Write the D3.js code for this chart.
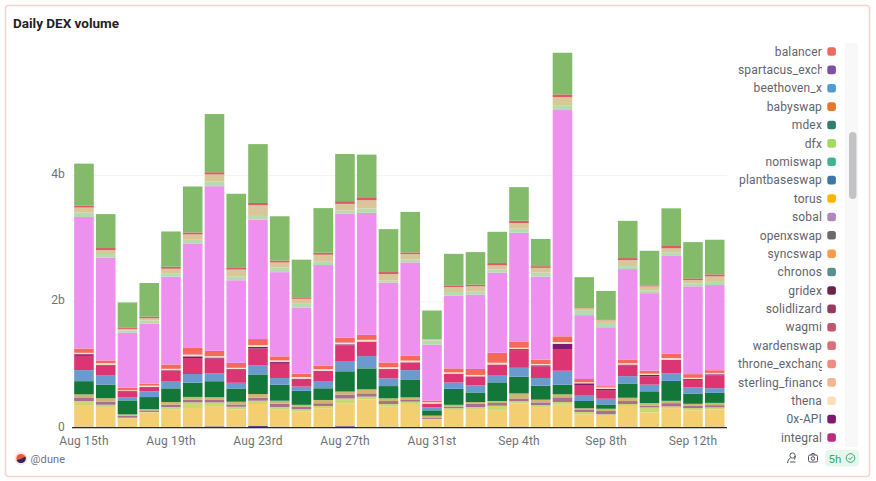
<!DOCTYPE html>
<html>
<head>
<meta charset="utf-8">
<script src="https://cdn.jsdelivr.net/npm/d3@7"></script>
<style>
  html, body { margin: 0; padding: 0; background: #fff; }
  text { font-family: Roboto, sans-serif; letter-spacing: .15px; }
</style>
</head>
<body>
<div id="graph"></div>
<script>
// daily volume per layer, in millions, bottom layer first
var days = d3.timeDay.range(new Date(2023, 7, 15), new Date(2023, 8, 14));
var tickDays = [0, 4, 8, 12, 16, 20, 24, 28];
var tickLabels = ["Aug 15th", "Aug 19th", "Aug 23rd", "Aug 27th", "Aug 31st", "Sep 4th", "Sep 8th", "Sep 12th"];
var yTicks = [0, 2000, 4000];

var baseLayer = [16,16,8,5,5,16,21,16,32,16,8,8,24,11,16,8,3,8,5,5,16,5,5,3,3,16,5,5,5,16];
var yellow = [343,311,142,237,280,295,321,273,343,269,248,300,359,438,316,368,131,273,289,264,368,321,359,210,201,327,237,305,269,273];
var olive = [63,36,8,8,43,90,58,43,52,43,36,36,79,43,43,36,5,27,32,79,36,32,43,36,8,32,79,27,36,32];
var mauve = [58,52,32,24,36,43,47,36,47,52,43,43,63,52,47,36,16,27,52,43,43,43,74,32,52,47,27,52,36,36];
var sand = [47,52,21,21,43,43,36,43,58,47,27,52,47,63,43,32,36,27,27,32,79,43,47,27,36,52,43,36,32,36];
var green = [210,216,221,190,216,226,253,210,311,253,221,185,321,332,194,284,84,253,153,295,264,221,153,115,68,226,185,316,163,158];
var blue = [174,142,52,90,106,137,122,90,147,106,68,115,163,194,122,147,47,100,111,106,142,122,221,84,90,115,106,122,95,74];
var crimson = [226,158,95,68,174,253,237,210,264,226,122,158,248,226,147,122,58,137,142,174,280,185,343,169,137,174,131,210,122,205];
var plum = [27,11,2,2,8,27,16,11,27,27,3,3,16,5,3,3,2,3,3,3,16,16,84,27,21,11,21,3,16,16];
var cream = [21,27,11,21,21,27,21,16,27,27,27,27,27,27,27,27,21,21,21,27,21,21,27,16,21,21,21,27,16,21];
var coral = [68,43,43,32,68,106,84,79,95,63,52,52,79,79,74,74,27,63,95,158,100,68,90,52,21,52,47,68,58,43];
var orchid = [2082,1627,869,948,1390,1654,2607,1307,1891,1333,1048,1596,1964,1932,1264,1480,885,1153,1177,1269,1722,1316,3582,1011,932,1438,1228,1548,1390,1348];
var mint = [71,58,36,52,47,58,74,63,58,74,58,52,47,68,36,47,68,55,52,47,63,63,68,79,68,47,43,58,47,63];
var khaki = [79,63,24,36,79,84,111,106,169,79,79,111,106,131,100,84,16,79,79,68,90,74,137,27,43,95,63,63,52,74];
var rose = [27,32,16,24,32,32,36,36,36,32,24,32,43,47,32,27,3,27,27,36,36,27,43,5,5,32,16,36,27,32];
var leaf = [668,537,403,532,558,727,921,1164,932,700,596,706,747,675,679,641,453,499,515,495,532,431,659,490,458,589,548,596,574,548];

var layers = {
  baseLayer: baseLayer, yellow: yellow, olive: olive, mauve: mauve, sand: sand, green: green,
  blue: blue, crimson: crimson, plum: plum, cream: cream, coral: coral, orchid: orchid,
  mint: mint, khaki: khaki, rose: rose, leaf: leaf
};
var layerColors = {
  baseLayer: "#5b4a8a", yellow: "#f4cf72", olive: "#c9d873", mauve: "#a7708f", sand: "#cdb66f", green: "#14773a",
  blue: "#6b9bce", crimson: "#dc3574", plum: "#7a1a70", cream: "#fbe3c8", coral: "#f4695c", orchid: "#ee90ee",
  mint: "#b4dcae", khaki: "#d9c79a", rose: "#d95c68", leaf: "#84bb6a"
};

var legendNames = ["balancer","spartacus_exchange","beethoven_x","babyswap","mdex","dfx","nomiswap","plantbaseswap","torus","sobal","openxswap","syncswap","chronos","gridex","solidlizard","wagmi","wardenswap","throne_exchange","sterling_finance","thena","0x-API","integral"];
var legendColors = ["#ee6a5f","#7e4fa5","#4f9bd5","#e8762d","#2f7d6c","#a3d95e","#3fb691","#3f76a8","#ffb400","#b583bd","#6b6b6b","#f89b4a","#5a8f92","#6b2247","#96395f","#c4556e","#db6f74","#ee8b83","#f4b690","#fbdfb9","#7a1a70","#bd2a82"];

var chart = d3.select("#graph").append("svg")
  .attr("width", 876).attr("height", 481)
  .style("display", "block");

// card
chart.append("rect")
  .attr("x", 5.5).attr("y", 5.5).attr("width", 864).attr("height", 471).attr("rx", 3)
  .attr("fill", "#fff").attr("stroke", "#f9d3ce").attr("stroke-width", 1.5);

chart.append("text")
  .attr("x", 13).attr("y", 28)
  .attr("font-size", 13.5).attr("font-weight", 700).attr("fill", "#1f2227")
  .style("letter-spacing", "0")
  .text("Daily DEX volume");

var x = d3.scaleBand().domain(d3.range(days.length)).range([73.1, 725.6]).paddingInner(0.1).paddingOuter(0.05);
var y = d3.scaleLinear().domain([0, 4000]).range([427.7, 175]);

// gridlines + y labels
chart.append("g")
  .attr("transform", "translate(72,0)")
  .call(d3.axisLeft(y).tickValues(yTicks).tickSize(-655).tickPadding(7)
    .tickFormat(function(d) { return d === 0 ? "0" : (d / 1000) + "b"; }))
  .call(function(g) {
    g.select(".domain").remove();
    g.selectAll("line").attr("stroke", "#f3f3f3");
    g.selectAll("text").attr("fill", "#6f7378").attr("font-size", 12).attr("y", -1.5);
  });

var rows = days.map(function(day, i) {
  var row = {};
  Object.keys(layers).forEach(function(k) { row[k] = layers[k][i]; });
  return row;
});
var stacked = d3.stack().keys(Object.keys(layers))(rows);

chart.selectAll("g.layer")
  .data(stacked)
  .enter().append("g")
  .attr("class", "layer")
  .attr("fill", function(d) { return layerColors[d.key]; })
  .selectAll("rect")
  .data(function(d) { return d; })
  .enter().append("rect")
  .attr("x", function(d, i) { return x(i); })
  .attr("y", function(d) { return y(d[1]); })
  .attr("width", x.bandwidth())
  .attr("height", function(d) { return y(d[0]) - y(d[1]); });

// x axis
chart.append("g")
  .attr("transform", "translate(0,427.7)")
  .call(d3.axisBottom(x).tickValues(tickDays).tickSize(0).tickPadding(9)
    .tickFormat(function(d) { return tickLabels[tickDays.indexOf(d)]; }))
  .call(function(g) {
    g.select(".domain").attr("stroke", "#2a2a3a").attr("stroke-width", 1.2).attr("d", "M72,0H727");
    g.selectAll("text").attr("fill", "#6f7378").attr("font-size", 12);
  });

// legend, scrolled part of a longer list; long names get cut off at the right
var legendY = d3.scalePoint().domain(legendNames).range([51.5, 437.5]);
var legend = chart.selectAll("g.legend")
  .data(legendNames)
  .enter().append("g")
  .attr("class", "legend")
  .attr("transform", function(d) { return "translate(0," + legendY(d) + ")"; });

legend.append("clipPath")
  .attr("id", function(d, i) { return "clip" + i; })
  .append("rect").attr("x", 735).attr("y", -9).attr("width", 87).attr("height", 18);

legend.append("g")
  .attr("clip-path", function(d, i) { return "url(#clip" + i + ")"; })
  .append("text")
  .attr("x", 822).attr("dy", ".35em")
  .attr("text-anchor", "end")
  .attr("font-size", 12).attr("fill", "#5f656d")
  .text(String)
  .each(function() {
    if (this.getComputedTextLength() > 84) {
      d3.select(this).attr("text-anchor", "start").attr("x", 738);
    }
  });

legend.append("rect")
  .attr("x", 827.3).attr("y", -4.3).attr("width", 8.6).attr("height", 8.6).attr("rx", 2.5)
  .attr("fill", function(d, i) { return legendColors[i]; });

// scrollbar
chart.append("rect").attr("x", 845).attr("y", 43).attr("width", 13).attr("height", 404).attr("fill", "#f8f8f9");
chart.append("rect").attr("x", 849).attr("y", 132).attr("width", 7.5).attr("height", 67).attr("rx", 3.7).attr("fill", "#c3c3c5");

// footer: logo
chart.append("circle").attr("cx", 21).attr("cy", 458.5).attr("r", 6.5).attr("fill", "#fde3df");
chart.append("circle").attr("cx", 21).attr("cy", 458.5).attr("r", 4.6).attr("fill", "#f0583a");
chart.append("path").attr("d", "M16.5,460 Q21,459.5 25.5,456.5 A4.6,4.6 0 0 1 16.5,460Z").attr("fill", "#2c2a5a");
chart.append("text").attr("x", 30.5).attr("y", 462.5).attr("font-size", 11).attr("fill", "#6f7378").text("@dune");

// footer: icons
var icons = chart.append("g").attr("fill", "none").attr("stroke", "#4f555c").attr("stroke-width", 1);
icons.append("circle").attr("cx", 792.5).attr("cy", 455.5).attr("r", 2.6);
icons.append("path").attr("d", "M787.5,463 Q788,458.5 790.5,458 M790,462 H795.5 M794.5,459.5 L795.5,456");
icons.append("rect").attr("x", 808.5).attr("y", 455).attr("width", 9).attr("height", 7).attr("rx", 1.5);
icons.append("path").attr("d", "M811,455 L811.8,453.5 H814.2 L815,455");
icons.append("circle").attr("cx", 813).attr("cy", 458.5).attr("r", 1.8);

chart.append("rect").attr("x", 825).attr("y", 450).attr("width", 34).attr("height", 16.5).attr("rx", 4).attr("fill", "#e6f8ee");
chart.append("text").attr("x", 828.5).attr("y", 462.5).attr("font-size", 11.5).attr("fill", "#3aa76d").text("5h");
chart.append("circle").attr("cx", 850.5).attr("cy", 458).attr("r", 4.3).attr("fill", "none").attr("stroke", "#3aa76d");
chart.append("path").attr("d", "M848.5,458 L850,459.6 L852.6,456.6").attr("fill", "none").attr("stroke", "#3aa76d");
</script>
</body>
</html>
